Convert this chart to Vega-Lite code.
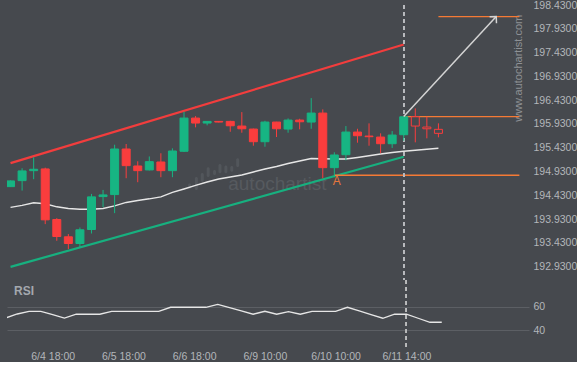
{
  "$schema": "https://vega.github.io/schema/vega-lite/v6.json",
  "background": "#46494e",
  "padding": {"left": 7, "top": 0, "right": 0, "bottom": 0},
  "spacing": 0,
  "bounds": "flush",
  "config": {
    "view": {"stroke": null},
    "font": "Liberation Sans",
    "axis": {"labelColor": "#b3b6ba", "labelFontSize": 10.5, "labelFont": "Liberation Sans", "ticks": false, "domain": false, "grid": false, "title": null}
  },
  "datasets": {
    "candles": [
      {"i": 0, "open": 194.613, "high": 194.743, "low": 194.607, "close": 194.733, "ma": 194.177, "rsi": 50.4},
      {"i": 1, "open": 194.739, "high": 194.999, "low": 194.530, "close": 194.943, "ma": 194.219, "rsi": 53.8},
      {"i": 2, "open": 194.949, "high": 195.230, "low": 194.769, "close": 194.978, "ma": 194.272, "rsi": 56.1},
      {"i": 3, "open": 194.985, "high": 195.012, "low": 193.825, "close": 193.915, "ma": 194.251, "rsi": 56.1},
      {"i": 4, "open": 193.922, "high": 193.951, "low": 193.475, "close": 193.565, "ma": 194.188, "rsi": 53.3},
      {"i": 5, "open": 193.559, "high": 193.616, "low": 193.301, "close": 193.418, "ma": 194.156, "rsi": 50.4},
      {"i": 6, "open": 193.418, "high": 193.754, "low": 193.343, "close": 193.706, "ma": 194.140, "rsi": 53.6},
      {"i": 7, "open": 193.712, "high": 194.460, "low": 193.628, "close": 194.398, "ma": 194.140, "rsi": 53.6},
      {"i": 8, "open": 194.404, "high": 194.544, "low": 194.182, "close": 194.439, "ma": 194.152, "rsi": 53.6},
      {"i": 9, "open": 194.446, "high": 195.494, "low": 194.056, "close": 195.404, "ma": 194.209, "rsi": 56.1},
      {"i": 10, "open": 195.404, "high": 195.509, "low": 194.790, "close": 195.054, "ma": 194.282, "rsi": 56.1},
      {"i": 11, "open": 195.047, "high": 195.146, "low": 194.706, "close": 194.949, "ma": 194.324, "rsi": 56.1},
      {"i": 12, "open": 194.964, "high": 195.247, "low": 194.953, "close": 195.138, "ma": 194.356, "rsi": 56.1},
      {"i": 13, "open": 195.131, "high": 195.314, "low": 194.811, "close": 194.949, "ma": 194.398, "rsi": 56.1},
      {"i": 14, "open": 194.949, "high": 195.418, "low": 194.811, "close": 195.362, "ma": 194.492, "rsi": 59.5},
      {"i": 15, "open": 195.356, "high": 196.186, "low": 195.341, "close": 196.054, "ma": 194.565, "rsi": 59.5},
      {"i": 16, "open": 196.054, "high": 196.096, "low": 195.859, "close": 195.949, "ma": 194.639, "rsi": 59.5},
      {"i": 17, "open": 195.949, "high": 195.984, "low": 195.901, "close": 195.984, "ma": 194.712, "rsi": 59.5},
      {"i": 18, "open": 195.984, "high": 195.991, "low": 195.963, "close": 195.970, "ma": 194.775, "rsi": 62.0},
      {"i": 19, "open": 195.984, "high": 195.997, "low": 195.766, "close": 195.892, "ma": 194.817, "rsi": 59.2},
      {"i": 20, "open": 195.886, "high": 196.179, "low": 195.746, "close": 195.829, "ma": 194.859, "rsi": 56.4},
      {"i": 21, "open": 195.823, "high": 195.833, "low": 195.473, "close": 195.557, "ma": 194.922, "rsi": 53.6},
      {"i": 22, "open": 195.557, "high": 195.997, "low": 195.452, "close": 195.970, "ma": 194.985, "rsi": 56.1},
      {"i": 23, "open": 195.970, "high": 195.975, "low": 195.655, "close": 195.829, "ma": 195.037, "rsi": 53.6},
      {"i": 24, "open": 195.823, "high": 196.047, "low": 195.746, "close": 196.012, "ma": 195.100, "rsi": 55.8},
      {"i": 25, "open": 196.012, "high": 196.039, "low": 195.817, "close": 195.976, "ma": 195.152, "rsi": 53.6},
      {"i": 26, "open": 195.970, "high": 196.473, "low": 195.829, "close": 196.159, "ma": 195.205, "rsi": 56.1},
      {"i": 27, "open": 196.159, "high": 196.236, "low": 194.790, "close": 195.012, "ma": 195.200, "rsi": 56.1},
      {"i": 28, "open": 195.012, "high": 195.335, "low": 194.811, "close": 195.278, "ma": 195.194, "rsi": 56.1},
      {"i": 29, "open": 195.284, "high": 195.886, "low": 195.167, "close": 195.760, "ma": 195.194, "rsi": 59.5},
      {"i": 30, "open": 195.760, "high": 195.829, "low": 195.536, "close": 195.683, "ma": 195.226, "rsi": 56.4},
      {"i": 31, "open": 195.676, "high": 195.943, "low": 195.473, "close": 195.662, "ma": 195.263, "rsi": 53.2},
      {"i": 32, "open": 195.655, "high": 195.733, "low": 195.314, "close": 195.515, "ma": 195.299, "rsi": 50.2},
      {"i": 33, "open": 195.515, "high": 195.781, "low": 195.425, "close": 195.697, "ma": 195.330, "rsi": 53.6},
      {"i": 34, "open": 195.704, "high": 196.085, "low": 195.578, "close": 196.081, "ma": 195.356, "rsi": 53.6},
      {"i": 35, "open": 196.081, "high": 196.257, "low": 195.544, "close": 195.886, "ma": 195.377, "rsi": 50.2},
      {"i": 36, "open": 195.865, "high": 196.081, "low": 195.628, "close": 195.829, "ma": 195.398, "rsi": 46.8},
      {"i": 37, "open": 195.817, "high": 195.943, "low": 195.649, "close": 195.733, "ma": 195.418, "rsi": 46.8}
    ],
    "channel": [
      {"line": "upper", "i": 0, "p": 195.107},
      {"line": "upper", "i": 34, "p": 197.599},
      {"line": "lower", "i": 0, "p": 192.927},
      {"line": "lower", "i": 34, "p": 195.242}
    ],
    "levels": [
      {"i": 37, "i2": 44, "p": 198.186},
      {"i": 34, "i2": 44, "p": 196.085},
      {"i": 28, "i2": 44, "p": 194.852}
    ],
    "arrow": [
      {"i": 34, "p": 196.085},
      {"i": 42, "p": 198.186}
    ],
    "logo": [
      {"i": 15.48, "lo": 194.565, "hi": 194.680},
      {"i": 16.07, "lo": 194.544, "hi": 194.817},
      {"i": 16.58, "lo": 194.718, "hi": 194.901},
      {"i": 17.09, "lo": 194.817, "hi": 195.020},
      {"i": 17.64, "lo": 194.859, "hi": 194.963},
      {"i": 18.11, "lo": 194.894, "hi": 195.089},
      {"i": 18.62, "lo": 194.894, "hi": 195.058},
      {"i": 19.13, "lo": 194.928, "hi": 195.047},
      {"i": 19.64, "lo": 195.026, "hi": 195.209}
    ],
    "pointA": [{"i": 28.2, "p": 194.73, "label": "A"}],
    "wm": [{"i": 23.07, "p": 194.67, "label": "autochartist"}],
    "wmv": [{"i": 44.0, "p": 197.10, "label": "www.autochartist.com"}],
    "rsiLabel": [{"i": 0.72, "v": 73.5, "label": "RSI"}]
  },
  "vconcat": [
    {
      "width": 522,
      "height": 275,
      "encoding": {
        "y": {"type": "quantitative", "scale": {"domain": [192.651, 198.43], "nice": false, "zero": false},
              "axis": {"orient": "right", "values": [192.93, 193.43, 193.93, 194.43, 194.93, 195.43, 195.93, 196.43, 196.93, 197.43, 197.93, 198.43], "format": ".4f", "labelPadding": 4}}
      },
      "layer": [
        {
          "data": {"name": "logo"},
          "mark": {"type": "bar", "size": 3, "cornerRadius": 1.5, "color": "#52565b"},
          "encoding": {
            "x": {"field": "i", "type": "quantitative", "scale": {"domain": [0.127, 44.4], "nice": false, "zero": false}, "axis": null},
            "y": {"field": "lo", "type": "quantitative"},
            "y2": {"field": "hi"}
          }
        },
        {
          "data": {"name": "wm"},
          "mark": {"type": "text", "fontSize": 19, "color": "#565a5f", "align": "center", "baseline": "middle", "font": "Liberation Sans"},
          "encoding": {
            "x": {"field": "i", "type": "quantitative", "scale": {"domain": [0.127, 44.4], "nice": false, "zero": false}, "axis": null},
            "y": {"field": "p", "type": "quantitative"},
            "text": {"field": "label"}
          }
        },
        {
          "data": {"name": "wmv"},
          "mark": {"type": "text", "fontSize": 11, "color": "#8e9195", "align": "center", "baseline": "middle", "angle": 270},
          "encoding": {
            "x": {"field": "i", "type": "quantitative", "scale": {"domain": [0.127, 44.4], "nice": false, "zero": false}, "axis": null},
            "y": {"field": "p", "type": "quantitative"},
            "text": {"field": "label"}
          }
        },
        {
          "data": {"name": "candles"},
          "mark": {"type": "line", "color": "#e6e6e6", "strokeWidth": 1.5, "clip": true},
          "encoding": {
            "x": {"field": "i", "type": "quantitative", "scale": {"domain": [0.127, 44.4], "nice": false, "zero": false}, "axis": null},
            "y": {"field": "ma", "type": "quantitative"}
          }
        },
        {
          "data": {"name": "channel"},
          "mark": {"type": "line", "strokeWidth": 2.2, "clip": true},
          "encoding": {
            "x": {"field": "i", "type": "quantitative", "scale": {"domain": [0.127, 44.4], "nice": false, "zero": false}, "axis": null},
            "y": {"field": "p", "type": "quantitative"},
            "color": {"field": "line", "type": "nominal", "scale": {"domain": ["upper", "lower"], "range": ["#f23d3d", "#17b07f"]}, "legend": null}
          }
        },
        {
          "data": {"name": "levels"},
          "mark": {"type": "rule", "color": "#f57a35", "strokeWidth": 1.3, "clip": true},
          "encoding": {
            "x": {"field": "i", "type": "quantitative", "scale": {"domain": [0.127, 44.4], "nice": false, "zero": false}, "axis": null},
            "x2": {"field": "i2"},
            "y": {"field": "p", "type": "quantitative"}
          }
        },
        {
          "data": {"name": "candles"},
          "mark": {"type": "rule", "color": "#b9bbbe", "strokeWidth": 1, "strokeDash": [4, 3]},
          "encoding": {
            "x": {"datum": 34, "type": "quantitative", "scale": {"domain": [0.127, 44.4], "nice": false, "zero": false}, "axis": null},
            "y": null
          }
        },
        {
          "data": {"name": "candles"},
          "mark": {"type": "rule", "strokeWidth": 1, "clip": true},
          "encoding": {
            "x": {"field": "i", "type": "quantitative", "scale": {"domain": [0.127, 44.4], "nice": false, "zero": false}, "axis": null},
            "y": {"field": "low", "type": "quantitative"},
            "y2": {"field": "high"},
            "color": {"condition": {"test": "datum.close >= datum.open", "value": "#17b583"}, "value": "#fa3d3d"}
          }
        },
        {
          "data": {"name": "candles"},
          "mark": {"type": "bar", "size": 8, "strokeWidth": 1, "clip": true},
          "encoding": {
            "x": {"field": "i", "type": "quantitative", "scale": {"domain": [0.127, 44.4], "nice": false, "zero": false}, "axis": null},
            "y": {"field": "open", "type": "quantitative"},
            "y2": {"field": "close"},
            "fill": {"condition": [{"test": "datum.i > 34", "value": "#46494e"}, {"test": "datum.close >= datum.open", "value": "#17b583"}], "value": "#fa3d3d"},
            "stroke": {"condition": {"test": "datum.close >= datum.open", "value": "#17b583"}, "value": "#fa3d3d"}
          }
        },
        {
          "data": {"name": "arrow"},
          "mark": {"type": "line", "color": "#d4d4d4", "strokeWidth": 1.5},
          "encoding": {
            "x": {"field": "i", "type": "quantitative", "scale": {"domain": [0.127, 44.4], "nice": false, "zero": false}, "axis": null},
            "y": {"field": "p", "type": "quantitative"}
          }
        },
        {
          "data": {"name": "arrow"},
          "transform": [{"filter": "datum.i == 42"}],
          "mark": {"type": "point", "shape": "M-0.7,0.7L0,0L0.7,0.7", "filled": false, "size": 180, "angle": 43, "stroke": "#d4d4d4", "strokeWidth": 1.5, "opacity": 1},
          "encoding": {
            "x": {"field": "i", "type": "quantitative", "scale": {"domain": [0.127, 44.4], "nice": false, "zero": false}, "axis": null},
            "y": {"field": "p", "type": "quantitative"}
          }
        },
        {
          "data": {"name": "pointA"},
          "mark": {"type": "text", "fontSize": 12, "color": "#e8763c", "align": "center", "baseline": "middle"},
          "encoding": {
            "x": {"field": "i", "type": "quantitative", "scale": {"domain": [0.127, 44.4], "nice": false, "zero": false}, "axis": null},
            "y": {"field": "p", "type": "quantitative"},
            "text": {"field": "label"}
          }
        }
      ]
    },
    {
      "width": 522,
      "height": 70,
      "layer": [
        {
          "data": {"name": "candles"},
          "mark": {"type": "line", "color": "#e6e6e6", "strokeWidth": 1.3, "clip": true},
          "encoding": {
            "x": {"field": "i", "type": "quantitative", "scale": {"domain": [0.127, 44.4], "nice": false, "zero": false},
                  "axis": {"orient": "bottom", "values": [4, 10, 16, 22, 28, 34], "labelPadding": 1.5, "labelExpr": "datum.value == 4 ? '6/4 18:00' : datum.value == 10 ? '6/5 18:00' : datum.value == 16 ? '6/6 18:00' : datum.value == 22 ? '6/9 10:00' : datum.value == 28 ? '6/10 10:00' : '6/11 14:00'"}},
            "y": {"field": "rsi", "type": "quantitative", "scale": {"domain": [23.3, 82.6], "nice": false, "zero": false},
                  "axis": {"orient": "right", "values": [40, 60], "grid": true, "gridColor": "#5c5f64", "gridWidth": 1, "labelPadding": 4}}
          }
        },
        {
          "data": {"name": "candles"},
          "mark": {"type": "rule", "color": "#b9bbbe", "strokeWidth": 1, "strokeDash": [4, 3]},
          "encoding": {
            "x": {"datum": 34, "type": "quantitative", "scale": {"domain": [0.127, 44.4], "nice": false, "zero": false}}
          }
        },
        {
          "data": {"name": "rsiLabel"},
          "mark": {"type": "text", "fontSize": 12, "fontWeight": "bold", "color": "#a4a8ae", "align": "left", "baseline": "middle"},
          "encoding": {
            "x": {"field": "i", "type": "quantitative", "scale": {"domain": [0.127, 44.4], "nice": false, "zero": false}},
            "y": {"field": "v", "type": "quantitative", "scale": {"domain": [23.3, 82.6], "nice": false, "zero": false}},
            "text": {"field": "label"}
          }
        }
      ]
    }
  ]
}
